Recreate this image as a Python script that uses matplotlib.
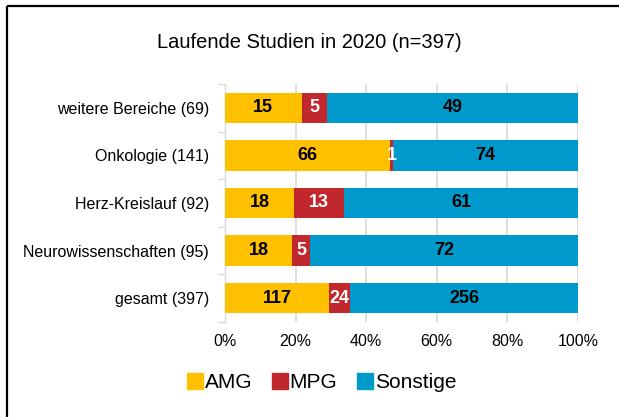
import matplotlib
matplotlib.use("Agg")
import matplotlib.pyplot as plt
import numpy as np
from matplotlib.lines import Line2D
from matplotlib.ticker import FixedLocator, PercentFormatter

plt.rcParams['font.family'] = ['Liberation Sans', 'DejaVu Sans']

categories = ["weitere Bereiche (69)", "Onkologie (141)", "Herz-Kreislauf (92)",
              "Neurowissenschaften (95)", "gesamt (397)"]
amg = [15, 66, 18, 18, 117]
mpg = [5, 1, 13, 5, 24]
sonstige = [49, 74, 61, 72, 256]
series_names = ["AMG", "MPG", "Sonstige"]
colors = ["#FFC000", "#C0282D", "#0099CC"]
label_colors = ["black", "white", "black"]
x_ticks = [0, 20, 40, 60, 80, 100]

fig = plt.figure(figsize=(6.19, 4.17), dpi=100)
W, H = 619, 417
ax = fig.add_axes([225 / W, 1 - 322 / H, (578 - 225) / W, (322 - 84) / H])

counts = np.array([amg, mpg, sonstige], dtype=float)
totals = counts.sum(axis=0)
pct = counts / totals * 100
y = np.arange(len(categories))

left = np.zeros(len(categories))
for i in range(3):
    bars = ax.barh(y, pct[i], left=left, height=0.64, color=colors[i],
                   label=series_names[i], zorder=3)
    for j, b in enumerate(bars):
        cx = left[j] + pct[i][j] / 2
        ax.text(cx, y[j], f"{int(counts[i][j])}", ha='center', va='center',
                color=label_colors[i], fontsize=13, fontweight='bold', zorder=4)
    left += pct[i]

ax.set_xlim(0, 100)
ax.set_ylim(len(categories) - 0.5, -0.5)
ax.set_yticks(y)
ax.set_yticklabels(categories, fontsize=11.5)
ax.yaxis.set_minor_locator(FixedLocator(np.arange(-0.5, len(categories), 1)))
ax.tick_params(axis='y', which='major', length=0, pad=11.5)
ax.tick_params(axis='y', which='minor', length=5, color='#D9D9D9', width=1)
ax.set_xticks(x_ticks)
ax.xaxis.set_major_formatter(PercentFormatter(decimals=0))
ax.tick_params(axis='x', length=0, labelsize=11.5, pad=9)
ax.grid(axis='x', color='#D9D9D9', linewidth=1.2, zorder=0)
for s in ['top', 'right', 'bottom']:
    ax.spines[s].set_visible(False)
ax.spines['left'].set_color('#D9D9D9')
ax.spines['left'].set_linewidth(1)

fig.text(0.5, 1 - 43 / H, "Laufende Studien in 2020 (n=397)", ha='center', va='center',
         fontsize=14.5)

handles = [plt.Line2D([], [], marker='s', linestyle='', markersize=11,
                      color=c) for c in colors]
fig.legend(handles, series_names, loc='center', bbox_to_anchor=(321 / W, 1 - 383 / H),
           ncol=3, frameon=False, fontsize=15, handletextpad=0.0,
           columnspacing=0.9, handlelength=0.9)

fig.add_artist(Line2D([7 / W, 7 / W], [0, 1 - 6 / H], transform=fig.transFigure,
                      color='black', linewidth=1.6, solid_capstyle='butt'))
fig.add_artist(Line2D([7 / W, 1.0], [1 - 6 / H, 1 - 6 / H], transform=fig.transFigure,
                      color='black', linewidth=1.6, solid_capstyle='butt'))

fig.savefig("out.png", dpi=100)
